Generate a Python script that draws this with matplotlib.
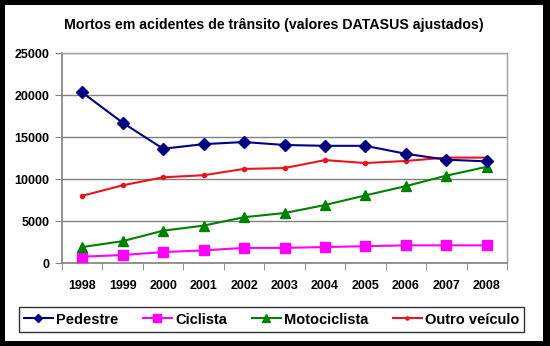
import numpy as np
import matplotlib
matplotlib.use("Agg")
import matplotlib.pyplot as plt
from matplotlib.patches import Rectangle

plt.rcParams['font.family'] = ['Liberation Sans', 'DejaVu Sans']
plt.rcParams['font.weight'] = 'bold'

# deaths per year by road user type
anos = ["1998", "1999", "2000", "2001", "2002", "2003", "2004", "2005", "2006", "2007", "2008"]
pedestre = [20300, 16700, 13600, 14150, 14400, 14050, 13950, 13950, 13000, 12300, 12100]
ciclista = [750, 950, 1300, 1500, 1800, 1800, 1900, 2000, 2100, 2100, 2100]
motociclista = [1900, 2600, 3850, 4450, 5450, 5950, 6900, 8050, 9150, 10400, 11450]
outro_veiculo = [8000, 9250, 10200, 10450, 11200, 11300, 12250, 11900, 12150, 12550, 12550]

W, H = 550, 346
fig = plt.figure(figsize=(W / 100, H / 100), dpi=100)
fig.patch.set_facecolor('black')
# white card inside the black frame
fig.patches.append(Rectangle((5 / W, 5 / H), 538 / W, 336 / H, transform=fig.transFigure,
                             facecolor='white', edgecolor='none', zorder=-5))

def px(x0, y0, x1, y1):
    return [x0 / W, 1 - y1 / H, (x1 - x0) / W, (y1 - y0) / H]

ax = fig.add_axes(px(62, 53, 507, 263))
ax.set_zorder(2)
x = np.arange(len(anos))

ax.plot(x, pedestre, color='#000080', marker='D', markersize=6, lw=1.5, label='Pedestre', zorder=5)
ax.plot(x, ciclista, color='#FF00FF', marker='s', markersize=7, lw=1.5, label='Ciclista', zorder=4)
ax.plot(x, motociclista, color='#008000', marker='^', markersize=7, lw=1.5, label='Motociclista', zorder=4)
ax.plot(x, outro_veiculo, color='#E8161C', marker='o', markersize=3, lw=1.5, label='Outro veículo', zorder=4)

ax.set_xlim(-0.5, len(anos) - 0.5)
ax.set_ylim(0, 25000)
ax.set_yticks(range(0, 25001, 5000))
ax.yaxis.grid(True, color='#808080', lw=1)
ax.set_axisbelow(True)

ax.set_xticks(x)
ax.set_xticklabels(anos, fontsize=9, fontweight='bold')
ax.set_xticks(np.arange(-0.5, len(anos), 1), minor=True)
ax.tick_params(axis='x', which='major', length=0, pad=12)
ax.tick_params(axis='x', which='minor', length=5, color='#808080', direction='out')
ax.tick_params(axis='y', length=5, color='#808080', direction='out', labelsize=9, pad=4)
for lab in ax.get_yticklabels():
    lab.set_fontweight('bold')

for s in ['top', 'right']:
    ax.spines[s].set_color('#A0A0A0')
    ax.spines[s].set_linewidth(1)
ax.spines['left'].set_color('#808080')
ax.spines['bottom'].set_color('#808080')
ax.spines['left'].set_linewidth(1.2)
ax.spines['bottom'].set_linewidth(1.2)

fig.text(274 / W, 1 - 25 / H, 'Mortos em acidentes de trânsito (valores DATASUS ajustados)',
         ha='center', va='center', fontsize=10.2, fontweight='bold')

leg = fig.legend(loc='center', bbox_to_anchor=(271.5 / W, 1 - 319.5 / H), ncol=4,
                 fontsize=10.5, frameon=True, fancybox=False, edgecolor='black',
                 handlelength=2.0, handletextpad=0.2, columnspacing=1.7, markerscale=0.75,
                 borderpad=0.35, borderaxespad=0)
leg.get_frame().set_linewidth(1)
leg.set_zorder(3)
for t in leg.get_texts():
    t.set_fontweight('bold')

fig.savefig('out.png', dpi=100, facecolor=fig.get_facecolor())
